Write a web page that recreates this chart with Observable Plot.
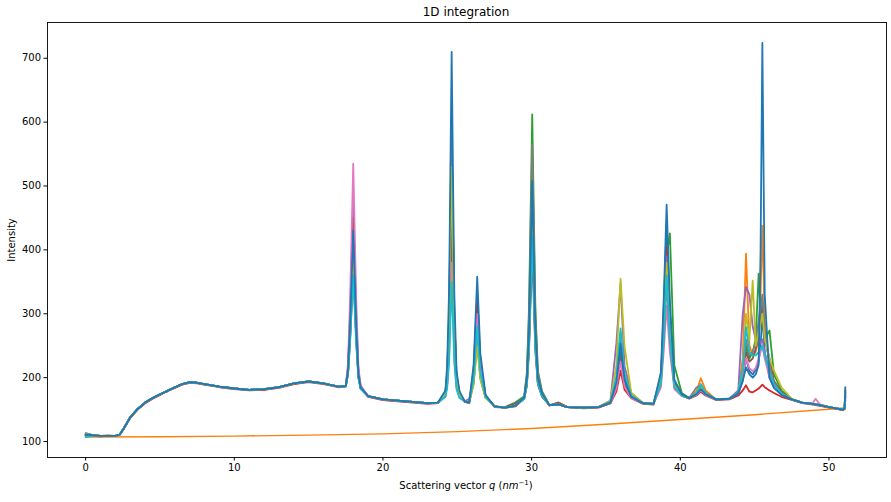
<!DOCTYPE html>
<html>
<head>
<meta charset="utf-8">
<script src="https://cdn.jsdelivr.net/npm/d3@7"></script>
<script src="https://cdn.jsdelivr.net/npm/@observablehq/plot@0.6"></script>
<style>
  html, body { margin: 0; padding: 0; background: #fff; }
  #wrap { width: 891px; height: 502px; position: relative; font-family: "DejaVu Sans", sans-serif; }
  #title { height: 21px; width: 891px; position: relative; }
  #title span { position: absolute; left: 466px; top: 5px; transform: translateX(-50%); font-size: 12px; color: #000; white-space: nowrap; }
</style>
</head>
<body>
<div id="wrap">
  <div id="title"><span>1D integration</span></div>
  <div id="chart"></div>
</div>
<script>
// Scattering vector grid (nm^-1)
const q = [0,0.5,1,1.5,2,2.3,2.6,3,3.5,4,4.5,5,5.5,6,6.5,7,7.5,8,9,10,11,12,13,14,15,16,17,
  17.5,17.65,17.8,18,18.2,18.35,18.5,
  19,20,21,22,23,23.7,
  24.2,24.32,24.45,24.62,24.8,24.95,25.15,
  25.5,25.8,
  26.1,26.34,26.55,26.9,
  27.5,28.2,28.9,
  29.5,29.68,29.82,30.04,30.25,30.42,30.7,
  31.2,31.8,32.4,33.5,34.5,
  35.3,35.7,35.98,36.25,36.7,
  37.5,38.2,
  38.7,38.9,39.08,39.3,39.6,40.1,
  40.6,
  41.1,41.38,41.7,
  42.4,43.3,
  43.9,44.2,44.42,44.65,44.87,45.07,45.27,45.4,45.52,45.68,46,46.3,46.8,
  47.5,48.2,48.9,49.1,49.4,50,50.5,50.9,51.05,51.1];

// Intensity series, in drawing order
const intensityBlueA = [113,110,109,109,109,111,122,138,151,161,168,174,179,185,190,193,192,190,186,183,181,182,185,191,194,191,186,
  187,211,286,420,278,205,184, 171,166,164,162,160,161, 176,207,298,580,292,200,175, 163,161, 204,300,216,170, 155,153,156,
  168,195,264,480,268,197,174, 157,158,154,153,154, 160,188,240,192,170, 160,159, 205,316,440,303,194,173, 168, 174,182,174, 166,167,
  176,195,230,210,205,212,225,250,300,240,200,185,174, 166,161,159,158,157,154,152,150,152,172];
const intensityOrange = [108,109,109,110,109,111,121,137,150,160,167,173,179,184,190,192,192,189,186,183,181,181,185,190,194,191,186,
  187,209,278,400,270,203,184, 171,166,164,162,160,161, 173,197,266,480,262,192,172, 163,161, 201,290,212,170, 155,153,156,
  168,191,252,440,254,193,172, 157,158,154,153,154, 161,195,260,199,171, 160,159, 194,276,368,267,187,172, 168, 179,199,180, 166,167,
  178,230,394,250,235,240,260,330,438,290,215,190,176, 166,161,159,158,157,154,152,150,152,168];
const intensityGreen = [111,110,109,109,109,111,122,138,151,161,168,174,180,185,190,193,192,190,186,183,181,182,185,191,194,191,186,
  187,207,269,380,262,201,183, 171,166,164,162,160,161, 176,204,289,550,283,197,174, 163,161, 198,280,208,170, 155,154,161,
  171,208,307,612,311,211,179, 157,158,154,153,154, 160,184,230,188,169, 160,159, 197,282,390,426,219,176, 168, 175,185,175, 166,167,
  177,205,250,230,240,260,363,300,320,260,274,205,180, 166,161,159,158,157,154,152,149,151,180];
const intensityRed = [110,109,108,109,109,111,121,137,150,160,167,173,179,184,189,192,191,189,185,182,180,181,184,190,193,190,185,
  186,206,265,370,258,200,183, 170,165,163,161,159,160, 172,191,247,420,244,187,171, 162,160, 213,330,227,172, 154,153,155,
  167,190,248,430,251,192,172, 156,161,154,152,153, 160,178,211,181,168, 159,158, 199,296,404,285,191,173, 167, 172,178,172, 165,166,
  172,180,188,178,177,180,183,186,189,185,180,176,170, 165,160,158,157,156,153,151,149,151,165];
const intensityPurple = [112,110,109,109,109,111,122,138,151,161,168,174,179,185,190,193,192,190,186,183,181,182,185,191,194,191,186,
  187,216,307,470,298,210,186, 171,166,164,162,160,161, 174,199,273,500,268,194,173, 163,167, 192,260,200,169, 155,153,156,
  168,194,261,470,264,196,173, 157,158,154,153,154, 164,254,347,218,176, 160,159, 197,288,390,278,189,172, 168, 174,183,174, 166,167,
  180,300,342,330,280,260,250,255,260,240,205,188,176, 166,161,159,158,157,154,152,150,152,175];
const intensityBrown = [109,109,109,109,109,111,122,138,151,161,168,174,179,185,190,193,192,190,186,183,181,182,185,191,194,191,186,
  187,214,299,450,290,208,185, 171,166,164,162,160,161, 173,196,263,470,259,191,172, 163,161, 195,270,204,169, 155,153,160,
  167,187,239,400,241,189,170, 157,161,154,153,154, 160,188,240,192,170, 160,159, 196,283,380,273,188,172, 168, 175,185,175, 166,167,
  176,205,240,225,230,245,270,290,310,260,230,195,177, 166,161,159,158,157,154,152,150,152,178];
const intensityPink = [111,110,109,109,109,111,122,138,151,161,168,174,179,185,190,193,192,190,186,183,181,182,185,191,194,191,186,
  187,223,334,535,324,216,188, 171,166,164,162,160,161, 170,187,234,380,232,184,169, 163,161, 204,300,216,170, 155,153,156,
  168,195,264,480,268,197,174, 157,158,154,153,154, 160,183,225,186,168, 160,159, 185,246,313,240,182,171, 168, 173,180,173, 166,167,
  175,200,230,215,210,215,230,240,250,230,200,186,174, 166,161,160,167,158,154,152,150,152,170];
const intensityGray = [110,110,109,109,109,111,122,138,151,161,168,174,179,185,190,193,192,190,186,183,181,182,185,191,194,191,186,
  187,209,278,400,270,203,184, 171,166,164,162,160,161, 177,208,302,590,295,202,176, 163,161, 192,260,200,169, 155,153,157,
  170,203,292,565,296,206,177, 157,158,154,153,154, 161,198,270,203,171, 160,159, 191,266,350,258,185,172, 168, 185,188,176, 166,167,
  177,210,260,235,240,255,290,310,330,270,220,192,176, 166,161,159,158,157,154,152,150,152,176];
const intensityOlive = [112,110,109,109,109,111,122,138,151,161,168,174,179,185,190,193,192,190,186,183,181,182,185,191,194,191,186,
  187,208,273,390,266,202,183, 171,166,164,162,160,161, 175,202,282,530,277,196,174, 163,161, 189,250,197,168, 155,153,156,
  168,192,255,450,258,194,173, 157,158,154,153,154, 164,219,355,249,176, 160,159, 196,283,380,273,188,172, 168, 174,184,174, 166,167,
  176,215,300,260,352,250,270,285,300,260,230,211,185, 167,161,159,158,157,154,152,150,152,182];
const intensityCyan = [107,109,109,109,109,111,122,138,151,161,168,174,179,185,190,193,192,190,186,183,181,182,185,191,194,191,186,
  186,205,261,360,254,199,182, 171,166,164,162,160,161, 170,184,225,350,223,182,168, 163,161, 198,280,208,170, 155,153,156,
  167,189,245,420,248,191,171, 157,158,154,153,154, 162,201,277,206,172, 160,159, 192,271,360,263,186,172, 168, 176,190,176, 166,167,
  177,215,279,240,235,235,240,245,250,235,210,190,175, 166,161,159,158,157,154,152,151,153,170];
const intensityBlueB = [111,110,109,109,109,111,122,138,151,161,168,174,179,185,190,193,192,190,186,183,181,182,185,191,194,191,186,
  187,212,290,430,282,206,185, 171,166,164,162,160,161, 180,220,340,710,331,210,179, 163,161, 221,358,238,173, 155,153,156,
  169,198,273,508,277,200,175, 157,158,154,153,154, 161,192,253,197,170, 160,159, 209,333,471,319,197,174, 168, 174,182,174, 166,167,
  175,195,216,205,200,205,220,400,724,330,200,184,173, 166,161,159,158,157,154,152,150,151,185];

// Background curve
const bgQ = [0,5,10,15,20,25,30,35,40,45,50,51.1];
const bgI = [107,107.5,108.5,110,112,115.5,120.5,127,134.5,142,150.5,152.5];

const seriesValues = [intensityBlueA,intensityOrange,intensityGreen,intensityRed,intensityPurple,intensityBrown,
  intensityPink,intensityGray,intensityOlive,intensityCyan,intensityBlueB];
const seriesColors = ["#1f77b4","#ff7f0e","#2ca02c","#d62728","#9467bd","#8c564b","#e377c2","#7f7f7f","#bcbd22","#17becf","#1f77b4"];

const xTicks = [0,10,20,30,40,50];
const yTicks = [100,200,300,400,500,600,700];

const bgData = bgQ.map((v, i) => ({q: v, I: bgI[i]}));
const lineMarks = seriesValues.map((vals, k) =>
  Plot.line(q.map((v, i) => ({q: v, I: vals[i]})), {x: "q", y: "I", stroke: seriesColors[k], strokeWidth: 1.8, strokeLinejoin: "round"})
);

const plot = Plot.plot({
  width: 891,
  height: 481,
  marginLeft: 47,
  marginRight: 5,
  marginTop: 1,
  marginBottom: 45,
  style: {fontFamily: "DejaVu Sans, sans-serif", fontSize: "10px", color: "#000", background: "#fff"},
  x: {domain: [-2.565, 53.87]},
  y: {domain: [75, 756]},
  marks: [
    Plot.line(bgData, {x: "q", y: "I", stroke: "#ff7f0e", strokeWidth: 1.4}),
    ...lineMarks,
    Plot.frame({stroke: "#000", strokeWidth: 0.9}),
    Plot.axisX({ticks: xTicks, tickSize: 3.5, tickPadding: 3, tickFormat: d => String(d), label: null, fontSize: 10}),
    Plot.axisY({ticks: yTicks, tickSize: 3.5, tickPadding: 3, tickFormat: d => String(d), label: null, fontSize: 10})
  ]
});

document.getElementById("chart").appendChild(plot);

const svg = d3.select(plot);
// x axis label
const xl = svg.append("text")
  .attr("x", 466).attr("y", 468)
  .attr("text-anchor", "middle")
  .attr("font-size", 10)
  .attr("fill", "#000");
xl.append("tspan").text("Scattering vector ");
xl.append("tspan").attr("font-style", "italic").text("q");
xl.append("tspan").text(" (");
xl.append("tspan").attr("font-style", "italic").text("nm");
xl.append("tspan").attr("font-size", 7).attr("dy", -4).text("\u22121");
xl.append("tspan").attr("dy", 4).text(")");
// y axis label
svg.append("text")
  .attr("transform", "translate(15,219) rotate(-90)")
  .attr("text-anchor", "middle")
  .attr("font-size", 10)
  .attr("fill", "#000")
  .text("Intensity");
</script>
</body>
</html>
